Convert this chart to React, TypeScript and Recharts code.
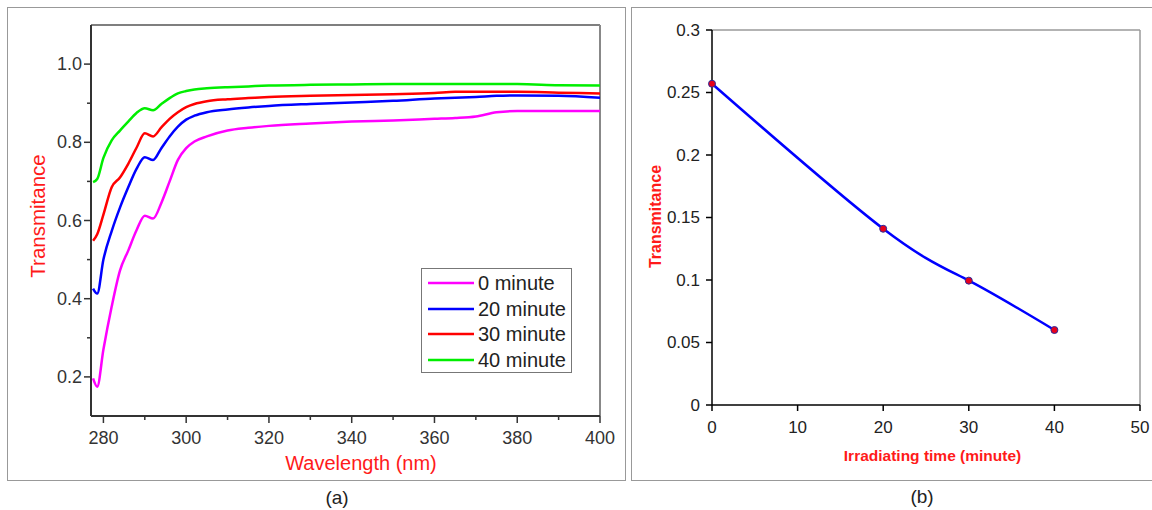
import React from 'react';
import { LineChart, Line, XAxis, YAxis, Legend, ReferenceLine } from 'recharts';

// ---------- Panel (a) data ----------
const wavelengths = [277.5, 278.5, 280, 282, 284, 286, 288, 290, 292, 294, 296, 298, 300, 302, 305, 310, 315, 320, 330, 340, 350, 360, 365, 370, 375, 380, 390, 400];
const trans0 = [0.196, 0.175, 0.27, 0.38, 0.472, 0.523, 0.575, 0.612, 0.605, 0.645, 0.7, 0.755, 0.785, 0.802, 0.815, 0.83, 0.837, 0.842, 0.848, 0.853, 0.856, 0.86, 0.862, 0.866, 0.877, 0.88, 0.88, 0.88];
const trans20 = [0.426, 0.413, 0.5, 0.573, 0.633, 0.685, 0.732, 0.762, 0.755, 0.785, 0.815, 0.84, 0.858, 0.868, 0.877, 0.884, 0.889, 0.893, 0.898, 0.902, 0.906, 0.912, 0.914, 0.916, 0.919, 0.92, 0.919, 0.914];
const trans30 = [0.548, 0.565, 0.615, 0.685, 0.71, 0.745, 0.786, 0.823, 0.815, 0.838, 0.86, 0.877, 0.89, 0.898, 0.905, 0.91, 0.913, 0.916, 0.919, 0.921, 0.923, 0.926, 0.929, 0.929, 0.929, 0.929, 0.927, 0.925];
const trans40 = [0.698, 0.706, 0.76, 0.805, 0.83, 0.853, 0.875, 0.887, 0.882, 0.898, 0.913, 0.925, 0.931, 0.935, 0.938, 0.941, 0.943, 0.945, 0.947, 0.948, 0.949, 0.949, 0.949, 0.949, 0.949, 0.949, 0.946, 0.945];
const seriesKeys = ['s0', 's20', 's30', 's40'];
const seriesNames = ['0 minute', '20 minute', '30 minute', '40 minute'];
const seriesColors = ['#ff00ff', '#0000ff', '#ff0000', '#00ee00'];
const xTicksA = [280, 290, 300, 310, 320, 330, 340, 350, 360, 370, 380, 390, 400];
const xMajorA = [280, 300, 320, 340, 360, 380, 400];
const yTicksA = [0.2, 0.3, 0.4, 0.5, 0.6, 0.7, 0.8, 0.9, 1.0];
const yMajorA = [0.2, 0.4, 0.6, 0.8, 1.0];

// ---------- Panel (b) data ----------
const times = [0, 20, 30, 40];
const transB = [0.257, 0.141, 0.0995, 0.06];
const xTicksB = [0, 10, 20, 30, 40, 50];
const yTicksB = [0, 0.05, 0.1, 0.15, 0.2, 0.25, 0.3];

const FONT = '"Liberation Sans", Arial, sans-serif';

const dataA = wavelengths.map((wl, i) => ({
  wl,
  s0: trans0[i],
  s20: trans20[i],
  s30: trans30[i],
  s40: trans40[i],
}));

const dataB = times.map((t, i) => ({ t, tr: transB[i] }));

const isIn = (arr: number[], v: number) => arr.some((a) => Math.abs(a - v) < 1e-6);

const XTickA = (props: any) => {
  const { x, y, payload } = props;
  const major = isIn(xMajorA, payload.value);
  return (
    <g>
      <line x1={x} y1={y} x2={x} y2={y + (major ? 7 : 4)} stroke="#333" strokeWidth={1.5} />
      {major && (
        <text x={x} y={y + 22} textAnchor="middle" dominantBaseline="central" fontSize={18} fill="#333" fontFamily={FONT}>
          {payload.value}
        </text>
      )}
    </g>
  );
};

const YTickA = (props: any) => {
  const { x, y, payload } = props;
  const major = isIn(yMajorA, payload.value);
  return (
    <g>
      <line x1={x} y1={y} x2={x - (major ? 7 : 4)} y2={y} stroke="#333" strokeWidth={1.5} />
      {major && (
        <text x={x - 9} y={y} textAnchor="end" dominantBaseline="central" fontSize={18} fill="#333" fontFamily={FONT}>
          {Number(payload.value).toFixed(1)}
        </text>
      )}
    </g>
  );
};

const XTickB = (props: any) => {
  const { x, y, payload } = props;
  return (
    <g>
      <line x1={x} y1={y} x2={x} y2={y + 6} stroke="#000" strokeWidth={1.5} />
      <text x={x} y={y + 22} textAnchor="middle" dominantBaseline="central" fontSize={17} fill="#222" fontFamily={FONT}>
        {payload.value}
      </text>
    </g>
  );
};

const YTickB = (props: any) => {
  const { x, y, payload } = props;
  return (
    <g>
      <line x1={x} y1={y} x2={x - 6} y2={y} stroke="#000" strokeWidth={1.5} />
      <text x={x - 12} y={y} textAnchor="end" dominantBaseline="central" fontSize={17} fill="#222" fontFamily={FONT}>
        {String(payload.value)}
      </text>
    </g>
  );
};

const LegendBox = () => (
  <div
    style={{
      width: 151,
      height: 105,
      boxSizing: 'border-box',
      border: '1.5px solid #777',
      background: '#fff',
      paddingTop: 1,
      paddingLeft: 6,
      fontFamily: FONT,
    }}
  >
    {seriesNames.map((n, i) => (
      <div key={n} style={{ height: 25.7, display: 'flex', alignItems: 'center' }}>
        <svg width={46} height={6} style={{ display: 'block' }}>
          <line x1={0} y1={3} x2={46} y2={3} stroke={seriesColors[i]} strokeWidth={2.5} />
        </svg>
        <span style={{ marginLeft: 4, fontSize: 20, color: '#222', lineHeight: '20px' }}>{n}</span>
      </div>
    ))}
  </div>
);

export default function App() {
  return (
    <div style={{ position: 'absolute', left: 0, top: 0, width: 1152, height: 510, background: '#fff', fontFamily: FONT }}>
      <div style={{ position: 'absolute', left: 7, top: 7, width: 619, height: 474, boxSizing: 'border-box', border: '1.5px solid #999' }} />
      <div style={{ position: 'absolute', left: 631, top: 7, width: 522, height: 474, boxSizing: 'border-box', border: '1.5px solid #999' }} />

      <div style={{ position: 'absolute', left: 0, top: 0 }}>
        <LineChart width={625} height={510} data={dataA} margin={{ top: 25, right: 25, left: 31, bottom: 64 }}>
          <XAxis
            dataKey="wl"
            type="number"
            domain={[277, 400]}
            ticks={xTicksA}
            interval={0}
            allowDataOverflow
            tickSize={0}
            tickMargin={0}
            tickLine={false}
            height={30}
            axisLine={{ stroke: '#333', strokeWidth: 2 }}
            tick={(p: any) => <XTickA {...p} />}
            label={{
              content: () => (
                <text x={361} y={463} textAnchor="middle" dominantBaseline="central" fontSize={20} fill="#ff1a1a" fontFamily={FONT}>
                  Wavelength (nm)
                </text>
              ),
            }}
          />
          <YAxis
            type="number"
            domain={[0.1, 1.1]}
            ticks={yTicksA}
            interval={0}
            allowDataOverflow
            width={60}
            tickSize={0}
            tickMargin={0}
            tickLine={false}
            axisLine={{ stroke: '#333', strokeWidth: 2 }}
            tick={(p: any) => <YTickA {...p} />}
            label={{
              content: () => (
                <text x={37} y={216} textAnchor="middle" dominantBaseline="central" fontSize={20.5} fill="#ff1a1a" fontFamily={FONT} transform="rotate(-90 37 216)">
                  Transmitance
                </text>
              ),
            }}
          />
          <ReferenceLine y={1.1} stroke="#555" strokeWidth={1.5} />
          <ReferenceLine x={400} stroke="#888" strokeWidth={2} />
          {seriesKeys.map((k, i) => (
            <Line
              key={k}
              type="monotone"
              dataKey={k}
              name={seriesNames[i]}
              stroke={seriesColors[i]}
              strokeWidth={2.5}
              dot={false}
              isAnimationActive={false}
            />
          ))}
          <Legend
            layout="vertical"
            align="center"
            verticalAlign="middle"
            wrapperStyle={{ left: 421, top: 268, width: 151, height: 105 }}
            content={() => <LegendBox />}
          />
        </LineChart>
      </div>

      <div style={{ position: 'absolute', left: 632, top: 0 }}>
        <LineChart width={520} height={510} data={dataB} margin={{ top: 30, right: 12, left: 20, bottom: 75 }}>
          <XAxis
            dataKey="t"
            type="number"
            domain={[0, 50]}
            ticks={xTicksB}
            interval={0}
            tickSize={0}
            tickMargin={0}
            tickLine={false}
            height={30}
            axisLine={{ stroke: '#000', strokeWidth: 1.5 }}
            tick={(p: any) => <XTickB {...p} />}
            label={{
              content: () => (
                <text x={300.5} y={455} textAnchor="middle" dominantBaseline="central" fontSize={15.5} fontWeight="bold" fill="#ff1a1a" fontFamily={FONT}>
                  Irradiating time (minute)
                </text>
              ),
            }}
          />
          <YAxis
            type="number"
            domain={[0, 0.3]}
            ticks={yTicksB}
            interval={0}
            width={60}
            tickSize={0}
            tickMargin={0}
            tickLine={false}
            axisLine={{ stroke: '#000', strokeWidth: 1.5 }}
            tick={(p: any) => <YTickB {...p} />}
            label={{
              content: () => (
                <text x={23} y={216.5} textAnchor="middle" dominantBaseline="central" fontSize={16} fontWeight="bold" fill="#ff1a1a" fontFamily={FONT} transform="rotate(-90 23 216.5)">
                  Transmitance
                </text>
              ),
            }}
          />
          <ReferenceLine y={0.3} stroke="#9a9a9a" strokeWidth={1.5} />
          <ReferenceLine x={50} stroke="#9a9a9a" strokeWidth={1.5} />
          <Line
            type="natural"
            dataKey="tr"
            stroke="#0000ff"
            strokeWidth={2.5}
            dot={{ r: 3.5, fill: '#e8001c', stroke: '#2a2a9a', strokeWidth: 1 }}
            isAnimationActive={false}
          />
        </LineChart>
      </div>

      <div style={{ position: 'absolute', left: 297, top: 486, width: 80, textAlign: 'center', fontSize: 19, color: '#222', lineHeight: '24px' }}>(a)</div>
      <div style={{ position: 'absolute', left: 882, top: 485, width: 80, textAlign: 'center', fontSize: 19, color: '#222', lineHeight: '24px' }}>(b)</div>
    </div>
  );
}
